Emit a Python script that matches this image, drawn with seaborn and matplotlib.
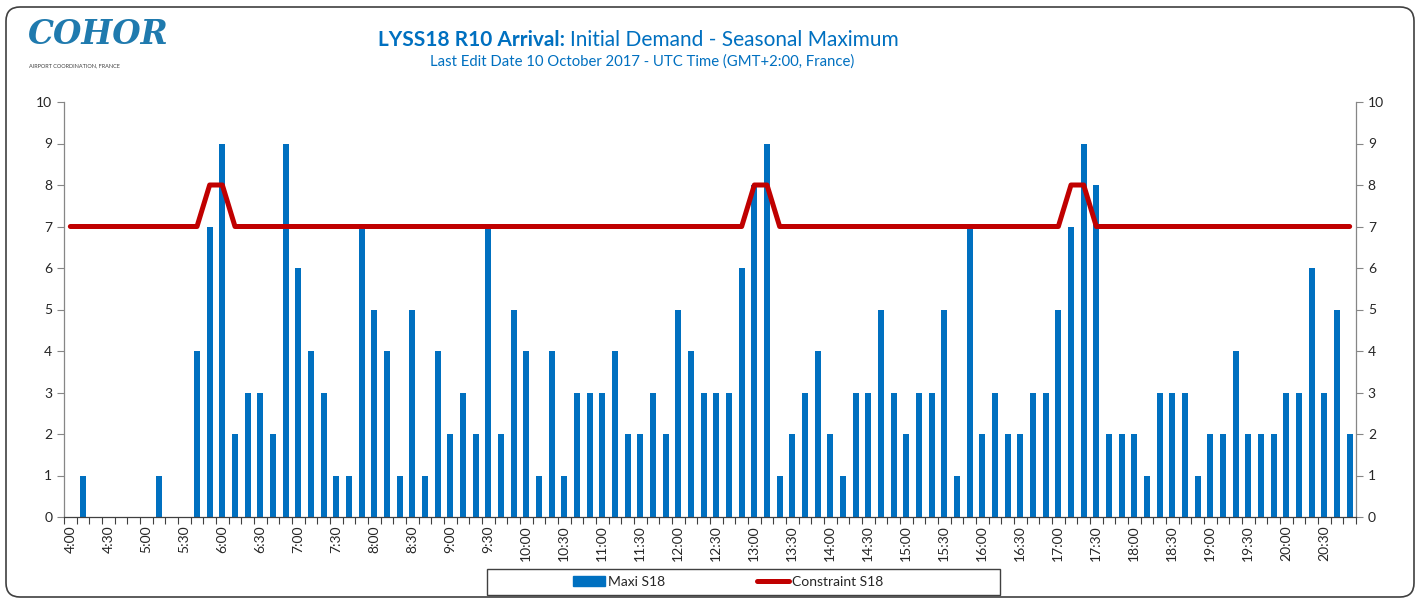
import numpy as np
import matplotlib.pyplot as plt
import seaborn as sns
from matplotlib.patches import Patch, FancyBboxPatch, Rectangle
from matplotlib.lines import Line2D

# -----------------------------
# Data
# -----------------------------
SLOTS = [f"{h}:{m:02d}" for h in range(4, 21) for m in range(0, 60, 10)]  # 4:00 .. 20:50

MAXI_S18 = [0, 1, 0, 0, 0, 0, 0, 1, 0, 0,
            4, 7, 9, 2, 3, 3, 2, 9, 6, 4,
            3, 1, 1, 7, 5, 4, 1, 5, 1, 4,
            2, 3, 2, 7, 2, 5, 4, 1, 4, 1,
            3, 3, 3, 4, 2, 2, 3, 2, 5, 4,
            3, 3, 3, 6, 8, 9, 1, 2, 3, 4,
            2, 1, 3, 3, 5, 3, 2, 3, 3, 5,
            1, 7, 2, 3, 2, 2, 3, 3, 5, 7,
            9, 8, 2, 2, 2, 1, 3, 3, 3, 1,
            2, 2, 4, 2, 2, 2, 3, 3, 6, 3,
            5, 2]

CONSTRAINT_S18 = [7] * 11 + [8, 8] + [7] * 41 + [8, 8] + [7] * 23 + [8, 8] + [7] * 21

TICK_LABELS = SLOTS[::3]

BLUE = "#0070C0"
RED = "#C00000"

# -----------------------------
# Figure
# -----------------------------
sns.set_style("white")
plt.rcParams["font.family"] = ["Lato", "DejaVu Sans"]

fig = plt.figure(figsize=(14.2, 6.01), dpi=100)
ax = fig.add_axes([64 / 1420, 1 - 517 / 601, 1292 / 1420, 415 / 601])

sns.barplot(x=SLOTS, y=MAXI_S18, order=SLOTS, color=BLUE, saturation=1,
            width=0.46, linewidth=0, ax=ax)
ax.plot(np.arange(len(SLOTS)), CONSTRAINT_S18, color=RED, lw=3.6,
        solid_joinstyle="round", solid_capstyle="round", zorder=3)

ax.set_xlim(-0.5, len(SLOTS) - 0.5)
ax.set_ylim(0, 10)
ax.set_yticks(range(0, 11))
ax.set_xticks(np.arange(0, len(SLOTS), 3))
ax.set_xticklabels(TICK_LABELS, rotation=90, fontsize=10, color="#262626")
ax.set_xticks(np.arange(-0.5, len(SLOTS), 1), minor=True)
ax.tick_params(axis="x", which="major", length=0, pad=6)
ax.tick_params(axis="x", which="minor", length=5, width=0.8, color="#404040",
               direction="out", bottom=True)
ax.tick_params(axis="y", left=True, right=True, labelleft=True, labelright=True,
               length=5, width=0.8, color="#868686", labelsize=10,
               labelcolor="#262626", direction="out")
ax.set_xlabel("")
ax.set_ylabel("")

for side in ["left", "right"]:
    ax.spines[side].set_visible(True)
    ax.spines[side].set_color("#868686")
    ax.spines[side].set_linewidth(0.9)
ax.spines["bottom"].set_color("#404040")
ax.spines["bottom"].set_linewidth(0.9)
ax.spines["top"].set_visible(False)

# Titles
fig.text(565 / 1420, 1 - 40 / 601, "LYSS18 R10 Arrival:", ha="right", va="center",
         fontsize=15, fontweight="bold", color=BLUE)
fig.text(570 / 1420, 1 - 40 / 601, "Initial Demand - Seasonal Maximum", ha="left",
         va="center", fontsize=15, color=BLUE)
fig.text(642 / 1420, 1 - 62 / 601,
         "Last Edit Date 10 October 2017 - UTC Time (GMT+2:00, France)",
         ha="center", va="center", fontsize=10.7, color=BLUE)

# Logo
fig.text(28 / 1420, 1 - 35 / 601, "COHOR", ha="left", va="center", fontsize=23.5,
         fontweight="bold", fontstyle="italic", color="#1F7AAE",
         family="DejaVu Serif")
fig.text(29 / 1420, 1 - 66 / 601, "AIRPORT COORDINATION, FRANCE", ha="left",
         va="center", fontsize=4, color="#404040")

# Legend
fig.patches.append(Rectangle((487, 601 - 595), 513, 26, transform=None,
                             fill=False, edgecolor="#404040", lw=1))
handles = [Patch(facecolor=BLUE, edgecolor=BLUE),
           Line2D([0], [0], color=RED, lw=3.6)]
fig.legend(handles, ["Maxi S18", "Constraint S18"], loc="center",
           bbox_to_anchor=(728 / 1420, 1 - 582 / 601), ncol=2, frameon=False,
           fontsize=10, handlelength=2.3, handleheight=0.7,
           handletextpad=0.25, columnspacing=6.6)

# Outer chart frame
fig.patches.append(FancyBboxPatch((6, 4), 1408, 590, transform=None,
                                  boxstyle="round,pad=0,rounding_size=14",
                                  fill=False, edgecolor="#404040", lw=1.2))

plt.savefig("out.png", dpi=100)
